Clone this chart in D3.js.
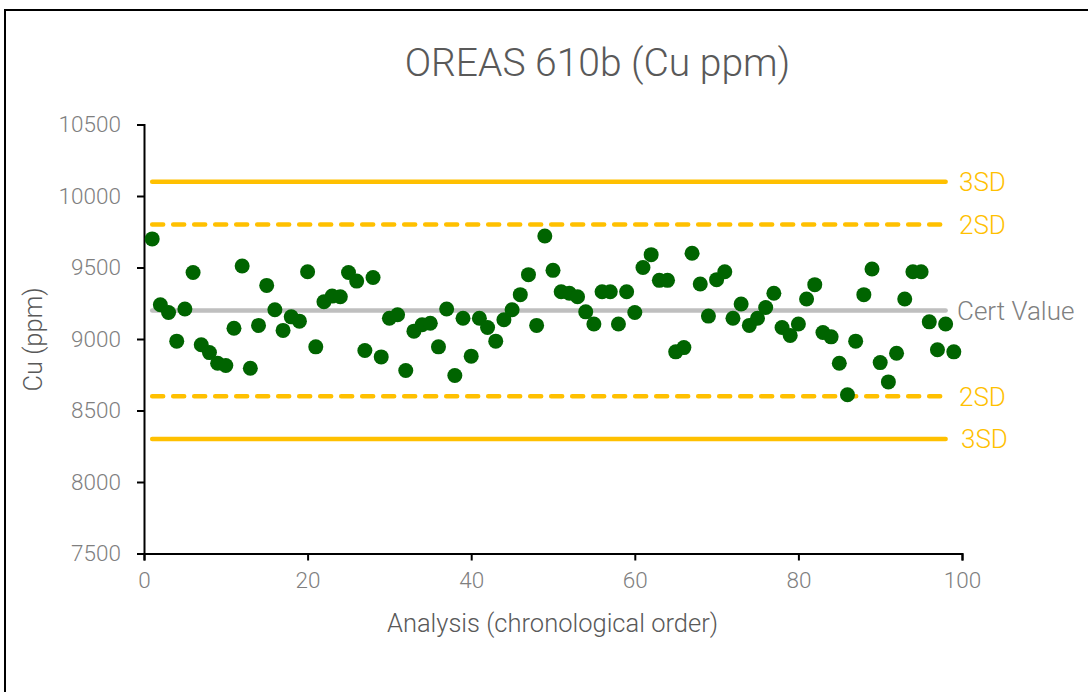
<!DOCTYPE html>
<html>
<head>
<meta charset="utf-8">
<script src="https://cdn.jsdelivr.net/npm/d3@7"></script>
<style>
  html, body { margin: 0; padding: 0; background: #fff; }
  svg { display: block; font-family: Roboto, "Noto Sans", sans-serif; }
</style>
</head>
<body>
<svg id="chart" width="1088" height="692"></svg>
<script>
// Data
const title = "OREAS 610b (Cu ppm)";
const xLabel = "Analysis (chronological order)";
const yLabel = "Cu (ppm)";
const analysis = d3.range(1, 100);
const cuValues = [
  9700, 9240, 9185, 8985, 9210, 9465, 8960, 8905, 8830, 8815,
  9075, 9510, 8795, 9095, 9375, 9205, 9060, 9155, 9125, 9470,
  8945, 9260, 9300, 9295, 9465, 9405, 8920, 9430, 8875, 9145,
  9170, 8780, 9055, 9100, 9110, 8945, 9210, 8745, 9145, 8880,
  9145, 9080, 8985, 9135, 9205, 9310, 9450, 9095, 9720, 9480,
  9330, 9320, 9295, 9190, 9105, 9330, 9330, 9105, 9330, 9185,
  9500, 9590, 9410, 9410, 8910, 8940, 9600, 9385, 9160, 9415,
  9470, 9145, 9245, 9095, 9145, 9220, 9320, 9080, 9025, 9105,
  9280, 9380, 9045, 9015, 8830, 8610, 8985, 9310, 9490, 8835,
  8700, 8900, 9280, 9470, 9470, 9120, 8925, 9105, 8910
];
const refNames = ["3SD", "2SD", "Cert Value", "2SD", "3SD"];
const refValues = [10100, 9800, 9200, 8600, 8300];
const refKinds = ["solid", "dash", "cert", "dash", "solid"];
const xTicks = [0, 20, 40, 60, 80, 100];
const yTicks = [7500, 8000, 8500, 9000, 9500, 10000, 10500];
const refStart = 1, refEnd = 98;

const svg = d3.select("#chart");

// Frame
svg.append("path")
  .attr("d", "M5,692 L5,10 L1088,10")
  .attr("fill", "none").attr("stroke", "#000").attr("stroke-width", 2);

const x = d3.scaleLinear().domain([0, 100]).range([144, 962]);
const y = d3.scaleLinear().domain([7500, 10500]).range([553.5, 124.5]);

// Title
svg.append("text")
  .attr("x", 597.5).attr("y", 76)
  .attr("text-anchor", "middle")
  .attr("font-size", 39).attr("font-weight", 300).attr("fill", "#595959")
  .text(title);

// Axes
const xAxis = svg.append("g").attr("transform", "translate(0,553.5)")
  .call(d3.axisBottom(x).tickValues(xTicks).tickSize(7).tickPadding(12).tickFormat(d3.format("d")));
const yAxis = svg.append("g").attr("transform", "translate(144,0)")
  .call(d3.axisLeft(y).tickValues(yTicks).tickSize(7).tickPadding(16).tickFormat(d3.format("d")));
[xAxis, yAxis].forEach(g => {
  g.select(".domain").attr("stroke", "#000").attr("stroke-width", 2);
  g.selectAll(".tick line").attr("stroke", "#000").attr("stroke-width", 2);
  g.selectAll(".tick text").attr("font-family", "Roboto, sans-serif")
    .attr("font-size", 22.5).attr("fill", "#7f7f7f").attr("font-weight", 300);
});

// Axis labels
svg.append("text")
  .attr("x", 552.5).attr("y", 632)
  .attr("text-anchor", "middle")
  .attr("font-size", 25.5).attr("font-weight", 300).attr("fill", "#595959")
  .text(xLabel);
svg.append("text")
  .attr("transform", "translate(42,339.5) rotate(-90)")
  .attr("text-anchor", "middle")
  .attr("font-size", 25.5).attr("font-weight", 300).attr("fill", "#595959")
  .text(yLabel);

// Reference lines
const refColor = k => k === "cert" ? "#BFBFBF" : "#FFC000";
refValues.forEach((v, i) => {
  const k = refKinds[i];
  svg.append("line")
    .attr("x1", x(refStart)).attr("x2", x(refEnd))
    .attr("y1", y(v)).attr("y2", y(v))
    .attr("stroke", refColor(k))
    .attr("stroke-width", 4.5)
    .attr("stroke-linecap", "round")
    .attr("stroke-dasharray", k === "dash" ? "11,10" : null);
  svg.append("text")
    .attr("x", k === "cert" ? 957 : (i === 4 ? 961 : 959))
    .attr("y", y(v))
    .attr("dy", "0.36em")
    .attr("font-size", 26).attr("font-weight", 300)
    .attr("fill", k === "cert" ? "#808080" : "#FFC000")
    .text(refNames[i]);
});

// Points
svg.append("g").selectAll("circle")
  .data(analysis)
  .join("circle")
  .attr("cx", (d) => x(d))
  .attr("cy", (d, i) => y(cuValues[i]))
  .attr("r", 7.5)
  .attr("fill", "#006400");
</script>
</body>
</html>
